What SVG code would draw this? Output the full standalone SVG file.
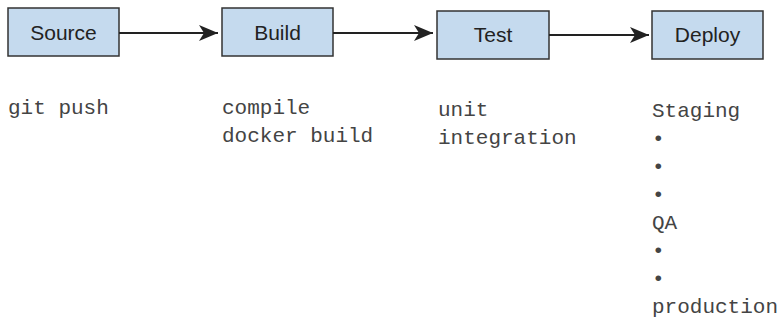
<svg xmlns="http://www.w3.org/2000/svg" width="782" height="325" viewBox="0 0 782 325">
<style>
.box{fill:#c5daee;stroke:#333;stroke-width:1.5}
.lbl{font-family:"Liberation Sans",Arial,sans-serif;font-size:21px;fill:#222;text-anchor:middle}
.mono{font-family:"Liberation Mono","Courier New",monospace;font-size:21px;fill:#444}
.conn{stroke:#222;stroke-width:2;fill:none;marker-end:url(#ah)}
</style>
<defs>
<marker id="ah" markerUnits="userSpaceOnUse" viewBox="-20 -9 21 18" refX="0" refY="0" markerWidth="21" markerHeight="18" orient="auto">
<path d="M-19,-8 L0,0 L-19,8 L-14,0 Z" fill="#222"/>
</marker>
</defs>
<g id="source"><rect class="box" x="8" y="8" width="111" height="48"/><text class="lbl" x="63.5" y="40">Source</text></g>
<g id="build"><rect class="box" x="222" y="8" width="111" height="48"/><text class="lbl" x="277.5" y="40">Build</text></g>
<g id="test"><rect class="box" x="437" y="11" width="112" height="48"/><text class="lbl" x="493" y="42">Test</text></g>
<g id="deploy"><rect class="box" x="652" y="11" width="111" height="48"/><text class="lbl" x="707.5" y="42">Deploy</text></g>
<g id="connectors">
<line class="conn" x1="119" y1="33" x2="218" y2="33"/>
<line class="conn" x1="333" y1="33" x2="433" y2="33"/>
<line class="conn" x1="549" y1="35" x2="649" y2="35"/>
</g>
<g id="notes">
<text class="mono" x="8" y="114">git push</text>
<text class="mono" x="222" y="114">compile</text>
<text class="mono" x="222" y="142">docker build</text>
<text class="mono" x="438" y="116">unit</text>
<text class="mono" x="438" y="144">integration</text>
<text class="mono" x="652" y="117">Staging</text>
<text class="mono" x="652" y="145">•</text>
<text class="mono" x="652" y="173">•</text>
<text class="mono" x="652" y="201">•</text>
<text class="mono" x="652" y="229">QA</text>
<text class="mono" x="652" y="257">•</text>
<text class="mono" x="652" y="285">•</text>
<text class="mono" x="652" y="313">production</text>
</g>
</svg>
